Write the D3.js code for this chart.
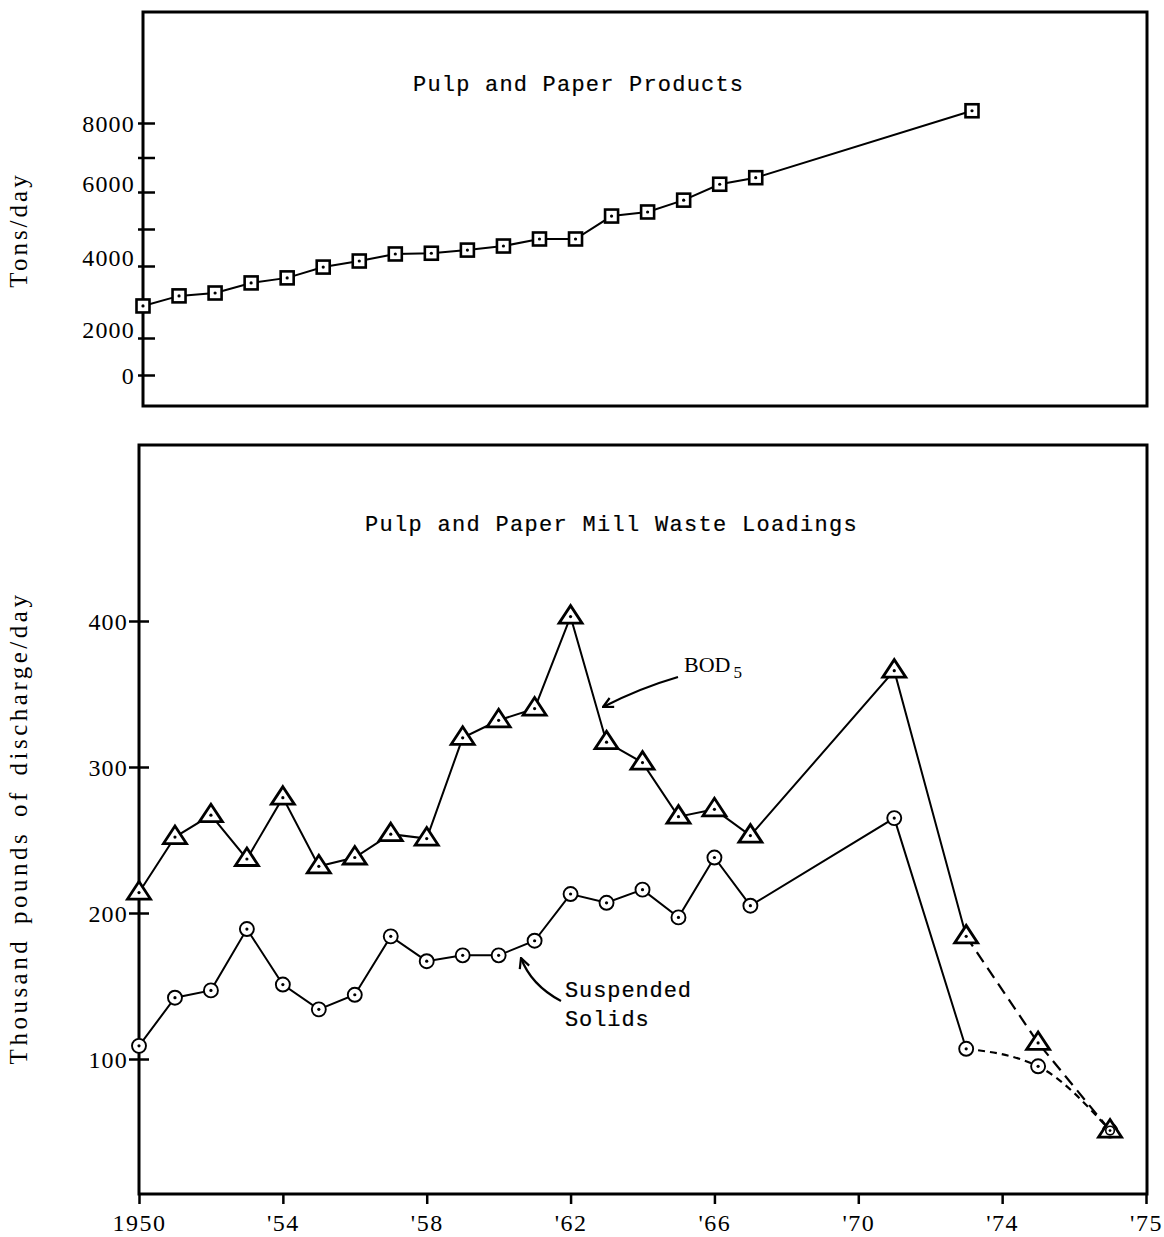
<!DOCTYPE html>
<html>
<head>
<meta charset="utf-8">
<script src="https://cdn.jsdelivr.net/npm/d3@7"></script>
<style>
  html, body { margin: 0; padding: 0; background: #fff; }
  svg { display: block; }
</style>
</head>
<body>
<svg id="chart" width="1164" height="1237"></svg>
<script>
// ---- Pulp and paper production, tons per day ----
const productYears = [1950, 1951, 1952, 1953, 1954, 1955, 1956, 1957, 1958, 1959,
                      1960, 1961, 1962, 1963, 1964, 1965, 1966, 1967, 1973];
const productTons  = [2890, 3170, 3250, 3530, 3670, 3970, 4135, 4325, 4345, 4430,
                      4540, 4730, 4730, 5350, 5460, 5780, 6225, 6415, 8355];
const tonsTickValues = [0, 2000, 4000, 5000, 6000, 7000, 8000];
const tonsTickLabels = ["0", "2000", "4000", "", "6000", "", "8000"];
// calibration points of the (non-uniform) printed tons axis
const tonsAxisStops = [0, 2000, 4000, 6000, 8000];

// ---- Mill waste loadings, thousand pounds of discharge per day ----
const wasteYears = [1950, 1951, 1952, 1953, 1954, 1955, 1956, 1957, 1958, 1959,
                    1960, 1961, 1962, 1963, 1964, 1965, 1966, 1967, 1971, 1973,
                    1975, 1977];
const bodValues  = [214, 252, 267, 237, 279, 232, 238, 254, 251, 320,
                    332, 340, 403, 317, 303, 266, 271, 253, 366, 184,
                    111, 51];
const solidsValues = [109, 142, 147, 189, 151, 134, 144, 184, 167, 171,
                      171, 181, 213, 207, 216, 197, 238, 205, 265, 107,
                      95, 51];
const wasteTickValues = [100, 200, 300, 400];
const yearTickValues = [1950, 1954, 1958, 1962, 1966, 1970, 1974, 1978];
const yearTickLabels = ["1950", "'54", "'58", "'62", "'66", "'70", "'74", "'75"];
// readings from this year on are joined with dashed lines
const projectedFrom = 1973;

const svg = d3.select("#chart");
const serif = "'Liberation Serif', 'DejaVu Serif', serif";
const typewriter = "'Liberation Mono', 'DejaVu Sans Mono', monospace";

// typewritten captions get a faint outline so they print a little heavier
function typed(sel) {
  return sel.attr("font-family", typewriter).attr("font-size", 22)
    .attr("fill", "#000").attr("stroke", "#000").attr("stroke-width", 0.2);
}

// ---------------- top panel ----------------
const topBox = { left: 143, right: 1147, top: 12, bottom: 406 };
const xTop = d3.scaleLinear().domain([1950, 1973]).range([143, 972]);
const yTop = d3.scaleLinear().domain(tonsAxisStops).range([375, 338, 266, 192, 123]);

const gTop = svg.append("g");
gTop.append("rect")
  .attr("x", topBox.left).attr("y", topBox.top)
  .attr("width", topBox.right - topBox.left).attr("height", topBox.bottom - topBox.top)
  .attr("fill", "none").attr("stroke", "#000").attr("stroke-width", 3);

const tonsAxis = gTop.append("g")
  .attr("transform", `translate(${topBox.left},0)`)
  .call(d3.axisLeft(yTop).tickValues(tonsTickValues)
        .tickFormat((d, i) => tonsTickLabels[i]).tickSize(5).tickPadding(5));
tonsAxis.select(".domain").remove();
tonsAxis.selectAll(".tick line").attr("x1", -5).attr("x2", 12)
  .attr("stroke", "#000").attr("stroke-width", 2.5);
tonsAxis.selectAll(".tick text")
  .attr("x", -8)
  .attr("dy", d => (d === 0 || d === 8000) ? "0.35em" : "-0.02em")
  .attr("font-family", serif).attr("font-size", 24)
  .attr("letter-spacing", 1.2).attr("fill", "#000");

gTop.append("text")
  .attr("transform", "translate(27,230) rotate(-90)")
  .attr("text-anchor", "middle")
  .attr("font-family", serif).attr("font-size", 25).attr("letter-spacing", 3)
  .text("Tons/day");

typed(gTop.append("text"))
  .attr("x", 413).attr("y", 91).attr("letter-spacing", 1.2)
  .text("Pulp and Paper Products");

const productPts = productYears.map((y, i) => [xTop(y), yTop(productTons[i])]);
gTop.append("path")
  .attr("d", d3.line()(productPts))
  .attr("fill", "none").attr("stroke", "#000").attr("stroke-width", 2);

const sq = gTop.selectAll("g.sq").data(productPts).join("g")
  .attr("class", "sq").attr("transform", d => `translate(${d[0]},${d[1]})`);
sq.append("rect").attr("x", -6.5).attr("y", -6.5).attr("width", 13).attr("height", 13)
  .attr("fill", "#fff").attr("stroke", "#000").attr("stroke-width", 2.6);
sq.append("circle").attr("r", 1.6).attr("fill", "#000");

// ---------------- bottom panel ----------------
const botBox = { left: 139, right: 1147, top: 445, bottom: 1194 };
const xBot = d3.scaleLinear().domain([1950, 1978]).range([botBox.left, 1146]);
const yBot = d3.scaleLinear().domain([100, 400]).range([1059, 621]);

const gBot = svg.append("g");
gBot.append("rect")
  .attr("x", botBox.left).attr("y", botBox.top)
  .attr("width", botBox.right - botBox.left).attr("height", botBox.bottom - botBox.top)
  .attr("fill", "none").attr("stroke", "#000").attr("stroke-width", 3);

const wasteAxis = gBot.append("g")
  .attr("transform", `translate(${botBox.left},0)`)
  .call(d3.axisLeft(yBot).tickValues(wasteTickValues).tickSize(10).tickPadding(5));
wasteAxis.select(".domain").remove();
wasteAxis.selectAll(".tick line").attr("x1", -10).attr("x2", 10)
  .attr("stroke", "#000").attr("stroke-width", 2.5);
wasteAxis.selectAll(".tick text")
  .attr("x", -11).attr("dy", "0.35em")
  .attr("font-family", serif).attr("font-size", 24)
  .attr("letter-spacing", 1.2).attr("fill", "#000");

const yearAxis = gBot.append("g")
  .attr("transform", `translate(0,${botBox.bottom})`)
  .call(d3.axisBottom(xBot).tickValues(yearTickValues)
        .tickFormat((d, i) => yearTickLabels[i]).tickSize(10).tickPadding(10));
yearAxis.select(".domain").remove();
yearAxis.selectAll(".tick line").attr("stroke", "#000").attr("stroke-width", 2.5);
yearAxis.selectAll(".tick text")
  .attr("font-family", serif).attr("font-size", 24)
  .attr("letter-spacing", 1.5).attr("fill", "#000");

gBot.append("text")
  .attr("transform", "translate(27,828) rotate(-90)")
  .attr("text-anchor", "middle")
  .attr("font-family", serif).attr("font-size", 25)
  .attr("letter-spacing", 3.5).attr("word-spacing", 4)
  .text("Thousand pounds of discharge/day");

typed(gBot.append("text"))
  .attr("x", 365).attr("y", 531).attr("letter-spacing", 1.3)
  .text("Pulp and Paper Mill Waste Loadings");

const bodPts = wasteYears.map((y, i) => ({ year: y, p: [xBot(y), yBot(bodValues[i])] }));
const ssPts = wasteYears.map((y, i) => ({ year: y, p: [xBot(y), yBot(solidsValues[i])] }));

function drawSeries(pts, dash, curve) {
  const solid = pts.filter(d => d.year <= projectedFrom).map(d => d.p);
  const dashed = pts.filter(d => d.year >= projectedFrom).map(d => d.p);
  gBot.append("path").attr("d", d3.line()(solid))
    .attr("fill", "none").attr("stroke", "#000").attr("stroke-width", 2);
  gBot.append("path").attr("d", d3.line().curve(curve)(dashed))
    .attr("fill", "none").attr("stroke", "#000").attr("stroke-width", 2.2)
    .attr("stroke-dasharray", dash);
}
drawSeries(ssPts, "7,5", d3.curveMonotoneX);
drawSeries(bodPts, "12,7", d3.curveLinear);

// suspended solids: open circles with a centre dot
const circ = gBot.selectAll("g.ss").data(ssPts).join("g")
  .attr("class", "ss").attr("transform", d => `translate(${d.p[0]},${d.p[1]})`);
circ.append("circle").attr("r", 7).attr("fill", "#fff")
  .attr("stroke", "#000").attr("stroke-width", 1.9);
circ.append("circle").attr("r", 1.6).attr("fill", "#000");

// BOD5: open triangles with a centre dot
const tri = gBot.selectAll("g.bod").data(bodPts).join("g")
  .attr("class", "bod").attr("transform", d => `translate(${d.p[0]},${d.p[1]})`);
tri.append("path").attr("d", "M0,-11L11.5,6.5L-11.5,6.5Z")
  .attr("fill", "#fff").attr("stroke", "#000").attr("stroke-width", 2.8)
  .attr("stroke-linejoin", "miter");
tri.append("circle").attr("r", 1.6).attr("fill", "#000");

// where both series meet, the circle sits inside the triangle
const shared = ssPts.filter((d, i) => solidsValues[i] === bodValues[i]);
const inner = gBot.selectAll("g.both").data(shared).join("g")
  .attr("transform", d => `translate(${d.p[0]},${d.p[1]})`);
inner.append("circle").attr("r", 4.3).attr("fill", "#fff")
  .attr("stroke", "#000").attr("stroke-width", 1.6);
inner.append("circle").attr("r", 1.4).attr("fill", "#000");

// annotation arrows
const defs = svg.append("defs");
defs.append("marker").attr("id", "head")
  .attr("viewBox", "0 0 12 12").attr("refX", 11).attr("refY", 6)
  .attr("markerWidth", 12).attr("markerHeight", 12)
  .attr("markerUnits", "userSpaceOnUse").attr("orient", "auto")
  .append("path").attr("d", "M1,1L11,6L1,11")
  .attr("fill", "none").attr("stroke", "#000").attr("stroke-width", 2.2);

gBot.append("path")
  .attr("d", "M678,677Q640,688 603,707")
  .attr("fill", "none").attr("stroke", "#000").attr("stroke-width", 2.2)
  .attr("marker-end", "url(#head)");
gBot.append("path")
  .attr("d", "M561,1001Q531,985 521,958")
  .attr("fill", "none").attr("stroke", "#000").attr("stroke-width", 2.2)
  .attr("marker-end", "url(#head)");

const bodLabel = gBot.append("text")
  .attr("x", 684).attr("y", 672)
  .attr("font-family", serif).attr("font-size", 22);
bodLabel.append("tspan").text("BOD");
bodLabel.append("tspan").attr("dx", 3).attr("dy", 6).attr("font-size", 17).text("5");

typed(gBot.append("text")).attr("letter-spacing", 0.9)
  .selectAll("tspan").data(["Suspended", "Solids"]).join("tspan")
  .attr("x", 565).attr("y", (d, i) => 997 + i * 29).text(d => d);
</script>
</body>
</html>
